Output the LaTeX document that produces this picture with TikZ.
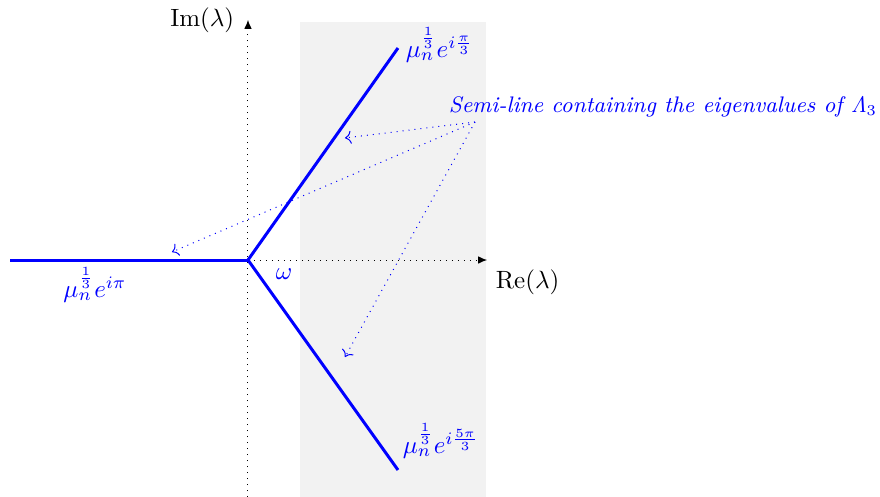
\documentclass[tikz,border=0pt]{standalone}
\usepackage{amsmath}
\usepackage{tikz}
\usetikzlibrary{arrows.meta, positioning, calc}

\begin{document}
\begin{tikzpicture}[x=20pt, y=20pt, >=To,
    axis/.style={dotted, -{Latex[length=3.5pt, width=3pt]}},
    branch/.style={blue, very thick},
    hint/.style={blue, dotted, ->},
    lab/.style={blue},
    strip/.style={fill=gray!10, draw=none}]

  \useasboundingbox (-4.96,-4.74) rectangle (12.64,5.2);

  % shaded strip
  \fill[strip] (1.04,-4.74) rectangle (4.76,4.76);

  % axes
  \coordinate (O) at (0,0);
  \coordinate (ybot) at (0,-4.74);
  \coordinate (ytop) at (0,4.8);
  \coordinate (xend) at (4.78,0);
  \draw[axis] (O) -- (xend);
  \draw[axis] (ybot) -- (ytop);
  \node[left=2pt of ytop] (im) {$\mathrm{Im}(\lambda)$};
  \node[below right=0.4pt and 0pt of xend] (re) {$\mathrm{Re}(\lambda)$};

  % the three semi-lines
  \coordinate (up) at (3,4.24);
  \coordinate (dn) at (3,-4.2);
  \coordinate (lf) at (-4.76,0);
  \draw[branch] (O) -- (up);
  \draw[branch] (O) -- (dn);
  \draw[branch] (O) -- (lf);

  \node[lab, anchor=west] (lup) at (2.98,4.3) {$\mu_n^{\frac13}e^{i\frac{\pi}{3}}$};
  \node[lab] (ldn) at (3.86,-3.62) {$\mu_n^{\frac13}e^{i\frac{5\pi}{3}}$};
  \node[lab] (llf) at (-3.06,-0.5) {$\mu_n^{\frac13}e^{i\pi}$};
  \node[lab] (om) at (0.72,-0.28) {$\omega$};

  % annotation
  \node[blue, font=\small] (note) at (8.3,3.06) {\textit{Semi-line containing the eigenvalues of $\mathit{\Lambda}_3$}};
  \coordinate (src) at (4.54,2.76);
  \coordinate (t1) at (1.94,2.44);
  \coordinate (t2) at (-1.52,0.16);
  \coordinate (t3) at (1.94,-1.94);
  \draw[hint] (src) -- (t1);
  \draw[hint] (src) -- (t2);
  \draw[hint] (src) -- (t3);

\end{tikzpicture}
\end{document}
